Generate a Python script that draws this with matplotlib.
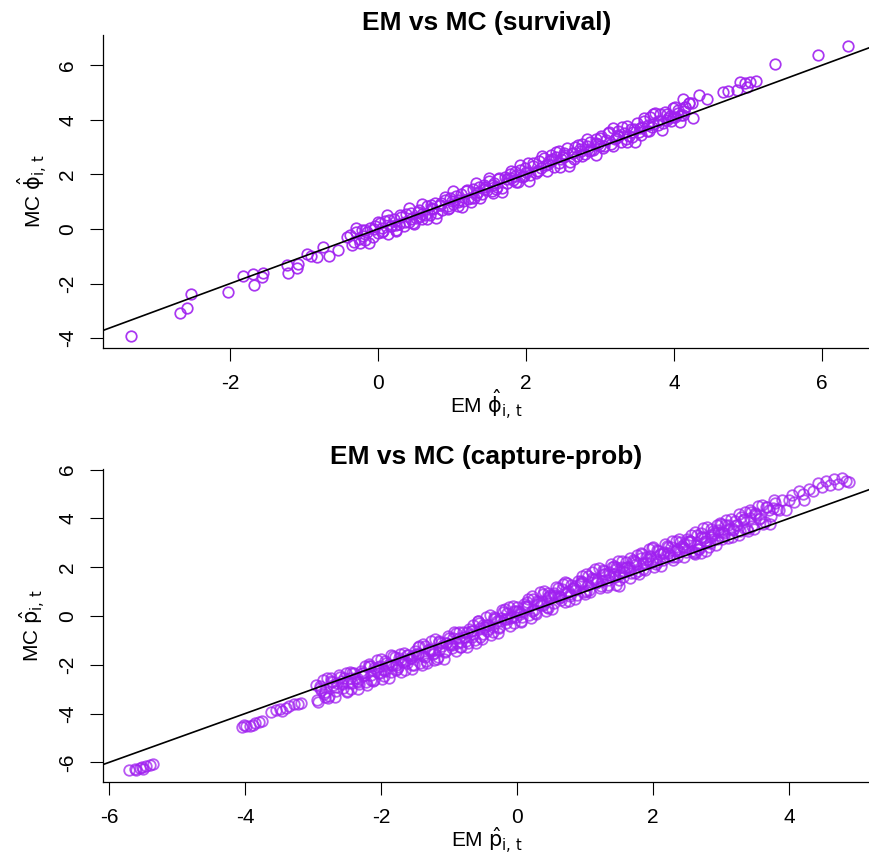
import matplotlib
matplotlib.use('Agg')
import matplotlib.pyplot as plt

plt.rcParams['font.family'] = ['Liberation Sans', 'DejaVu Sans']
plt.rcParams['mathtext.fontset'] = 'dejavusans'

# ---------------- data: survival (top panel) ----------------
em_surv = [
    -3.34, -2.68, -2.58, -2.53, -2.03, -1.83, -1.68, -1.69, -1.57, -1.55,
    -1.23, -1.22, -1.10, -1.08, -0.96, -0.83, -0.74, -0.66, -0.54, -0.42,
    -0.35, -0.90,
    -0.38, -0.33, -0.30, -0.26, -0.22, -0.18, -0.15, -0.11, -0.07, -0.04,
    0.00, 0.03, 0.07, 0.10, 0.14, 0.17, 0.21, 0.24, 0.28, 0.31,
    0.35, 0.38, 0.42, 0.45, 0.49, 0.52, 0.56, 0.59, 0.63, 0.66,
    0.70, 0.73, 0.77, 0.80, 0.84, 0.87, 0.91, 0.94, 0.98, 1.01,
    1.05, 1.08, 1.12, 1.15, 1.19, 1.22, 1.26, 1.29, 1.33, 1.36,
    1.40, 1.43, 1.47, 1.50, 1.54, 1.57, 1.61, 1.64, 1.68, 1.71,
    1.75, 1.78, 1.82, 1.85, 1.89, 1.92, 1.96, 1.99, 2.03, 2.06,
    2.10, 2.13, 2.17, 2.20, 2.24, 2.27, 2.31, 2.34, 2.38, 2.41,
    2.45, 2.48, 2.52, 2.55, 2.59, 2.62, 2.66, 2.69, 2.73, 2.76,
    2.80, 2.83, 2.87, 2.90, 2.94, 2.97, 3.01, 3.04, 3.08, 3.11,
    3.15, 3.18, 3.22, 3.25, 3.29, 3.32, 3.36, 3.39, 3.43, 3.46,
    3.50, 3.53, 3.57, 3.60, 3.64, 3.67, 3.71, 3.74, 3.78, 3.81,
    3.85, 3.88, 3.92, 3.95, 3.99, 4.02, 4.06, 4.10, 4.15, 4.20,
    -0.20, 0.05, 0.25, 0.45, 0.60, 0.75, 0.95, 1.10, 1.30, 1.45,
    1.60, 1.80, 1.95, 2.15, 2.30, 2.50, 2.65, 2.85, 3.00, 3.20,
    3.35, 3.55, 3.70, 3.90, 4.05, 0.15, 0.55, 1.00, 1.55, 2.00,
    2.45, 2.95, 3.45, 0.85, 1.35, 1.85, 2.35, 2.75, 3.25, 3.65,
    4.12, 4.24, 4.15, 4.34, 4.45, 4.12, 3.99, 4.66, 4.73, 4.85,
    4.89, 4.96, 5.03, 5.11, 4.99, 5.36, 5.95, 6.35,
    -0.30, -0.24, -0.18, -0.12, -0.06, 0.00, 0.06, 0.12, 0.18, 0.24,
    0.30, 0.36, 0.42, 0.48, 0.54, 0.60, 0.66, 0.72, 0.78, 0.84,
    0.90, 0.96, 1.02, 1.08, 1.14, 1.20, 1.26, 1.32, 1.38, 1.44,
    1.50, 1.56, 1.62, 1.68, 1.74, 1.80, 1.86, 1.92, 1.98, 2.04,
    2.10, 2.16, 2.22, 2.28, 2.34, 2.40, 2.46, 2.52, 2.58, 2.64,
    2.70, 2.76, 2.82, 2.88, 2.94, 3.00, 3.06, 3.12, 3.18, 3.24,
    3.30, 3.36, 3.42, 3.48, 3.54, 3.60, 3.66, 3.72, 3.78, 3.84,
    3.90, 3.96, 4.02, 4.08, 4.14, 4.20, 4.26,
]
mc_surv = [
    -3.92, -3.08, -2.89, -2.38, -2.31, -1.72, -2.05, -1.65, -1.75, -1.62,
    -1.32, -1.62, -1.43, -1.30, -0.92, -1.02, -0.66, -0.99, -0.77, -0.29,
    -0.59, -1.00,
    -0.22, -0.48, -0.10, -0.35, -0.02, -0.40, -0.12, 0.05, -0.30, 0.10,
    -0.15, 0.22, -0.08, 0.30, -0.20, 0.12, 0.38, -0.05, 0.20, 0.45,
    0.10, 0.55, 0.25, 0.60, 0.18, 0.40, 0.70, 0.35, 0.52, 0.85,
    0.50, 0.78, 0.95, 0.60, 0.88, 0.70, 1.05, 0.75, 1.15, 0.90,
    1.20, 0.85, 1.30, 1.02, 1.40, 1.10, 1.00, 1.45, 1.25, 1.55,
    1.30, 1.60, 1.42, 1.75, 1.38, 1.68, 1.55, 1.88, 1.50, 1.92,
    1.70, 2.02, 1.80, 2.10, 1.72, 2.15, 1.95, 2.25, 2.40, 1.98,
    2.30, 2.05, 2.50, 2.22, 2.60, 2.35, 2.48, 2.70, 2.28, 2.62,
    2.85, 2.55, 2.70, 2.95, 2.45, 2.80, 3.00, 2.68, 2.92, 3.10,
    2.75, 3.05, 3.20, 2.90, 3.30, 3.10, 3.40, 2.95, 3.25, 3.50,
    3.12, 3.70, 3.35, 3.58, 3.20, 3.50, 3.78, 3.40, 3.37, 3.65,
    3.90, 3.55, 3.72, 4.05, 3.60, 4.10, 3.85, 4.25, 3.95, 4.20,
    3.88, 4.30, 4.05, 4.15, 4.43, 4.10, 4.35, 4.18, 4.47, 4.62,
    -0.25, 0.05, 0.15, 0.35, 0.55, 0.72, 0.85, 1.05, 1.15, 1.48,
    1.45, 1.85, 1.90, 2.12, 2.38, 2.62, 2.55, 2.85, 3.05, 3.28,
    3.30, 3.45, 3.75, 4.00, 4.25, 0.32, 0.45, 1.02, 1.62, 2.10,
    2.40, 3.15, 3.55, 0.95, 1.35, 1.95, 2.55, 2.85, 3.42, 3.80,
    4.76, 4.62, 4.47, 4.91, 4.76, 4.18, 4.10, 5.02, 5.06, 5.09,
    5.38, 5.35, 5.38, 5.42, 5.20, 6.04, 6.37, 6.70,
    0.02, -0.52, -0.03, -0.50, -0.01, 0.26, -0.12, 0.50, 0.10, -0.08,
    0.52, 0.24, 0.77, 0.23, 0.64, 0.92, 0.38, 0.87, 0.40, 0.89,
    1.16, 0.78, 1.40, 1.00, 0.82, 1.42, 1.14, 1.67, 1.13, 1.54,
    1.87, 1.33, 1.82, 1.35, 1.84, 2.11, 1.73, 2.35, 1.95, 1.77,
    2.42, 2.14, 2.67, 2.13, 2.54, 2.82, 2.28, 2.77, 2.30, 2.79,
    3.06, 2.68, 3.30, 2.90, 2.72, 3.32, 3.04, 3.57, 3.03, 3.44,
    3.72, 3.18, 3.67, 3.20, 3.69, 3.96, 3.58, 4.20, 3.80, 3.62,
    4.22, 3.94, 4.47, 3.93, 4.34, 4.62, 4.08,
]

# ---------------- data: capture probability (bottom panel) ----------------
em_cap = [
    -5.70, -5.62, -5.55, -5.50, -5.45, -5.40, -5.35, -5.60, -5.52,
    -4.05, -3.98, -3.92, -3.85, -3.80, -3.75, -4.02, -3.88,
    -3.62, -3.55, -3.48, -3.40, -3.35, -3.28, -3.22, -3.18, -3.45,
    -2.96, -2.92, -2.88, -2.84, -2.80, -2.76, -2.72, -2.68, -2.64, -2.60,
    -2.56, -2.52, -2.48, -2.44, -2.40, -2.36, -2.32, -2.28, -2.24, -2.20,
    -2.16, -2.12, -2.08, -2.04, -2.00, -1.96, -1.92, -1.88, -1.84, -1.80,
    -1.76, -1.72, -1.68, -1.64, -1.60, -1.56, -1.52, -1.48, -1.44, -1.40,
    -1.36, -1.32, -1.28, -1.24, -1.20, -1.16, -1.12, -1.08, -1.04, -1.00,
    -0.96, -0.92, -0.88, -0.84, -0.80, -0.76, -0.72, -0.68, -0.64, -0.60,
    -0.56, -0.52, -0.48, -0.44, -0.40, -0.36, -0.32, -0.28, -0.24, -0.20,
    -0.16, -0.12, -0.08, -0.04, 0.00, 0.04, 0.08, 0.12, 0.16, 0.20,
    0.24, 0.28, 0.32, 0.36, 0.40, 0.44, 0.48, 0.52, 0.56, 0.60,
    0.64, 0.68, 0.72, 0.76, 0.80, 0.84, 0.88, 0.92, 0.96, 1.00,
    1.04, 1.08, 1.12, 1.16, 1.20, 1.24, 1.28, 1.32, 1.36, 1.40,
    1.44, 1.48, 1.52, 1.56, 1.60, 1.64, 1.68, 1.72, 1.76, 1.80,
    1.84, 1.88, 1.92, 1.96, 2.00, 2.04, 2.08, 2.12, 2.16, 2.20,
    2.24, 2.28, 2.32, 2.36, 2.40, 2.44, 2.48, 2.52, 2.56, 2.60,
    2.64, 2.68, 2.72, 2.76, 2.80, 2.84, 2.88, 2.92, 2.96, 3.00,
    3.04, 3.08, 3.12, 3.16, 3.20, 3.24, 3.28, 3.32, 3.36, 3.40,
    3.44, 3.48, 3.52, 3.56, 3.60, 3.64, 3.68, 3.72, 3.76, 3.80,
    3.85, 3.90, 3.95, 4.00, 4.08, 4.15, 4.22, 4.30, 4.36, 4.42,
    4.48, 4.55, 4.60, 4.66, 4.72, 4.78, 4.84, 4.88, 4.05, 4.20,
    2.62, 2.70, 2.78, 2.66, 1.45, 1.50,
    -2.94, -2.90, -2.86, -2.82, -2.78, -2.74, -2.70, -2.66, -2.62, -2.58,
    -2.54, -2.50, -2.46, -2.42, -2.38, -2.34, -2.30, -2.26, -2.22, -2.18,
    -2.14, -2.10, -2.06, -2.02, -1.98, -1.94, -1.90, -1.86, -1.82, -1.78,
    -1.74, -1.70, -1.66, -1.62, -1.58, -1.54, -1.50, -1.46, -1.42, -1.38,
    -1.34, -1.30, -1.26, -1.22, -1.18, -1.14, -1.10, -1.06, -1.02, -0.98,
    -0.94, -0.90, -0.86, -0.82, -0.78, -0.74, -0.70, -0.66, -0.62, -0.58,
    -0.54, -0.50, -0.46, -0.42, -0.38, -0.34, -0.30, -0.26, -0.22, -0.18,
    -0.14, -0.10, -0.06, -0.02, 0.02, 0.06, 0.10, 0.14, 0.18, 0.22,
    0.26, 0.30, 0.34, 0.38, 0.42, 0.46, 0.50, 0.54, 0.58, 0.62,
    0.66, 0.70, 0.74, 0.78, 0.82, 0.86, 0.90, 0.94, 0.98, 1.02,
    1.06, 1.10, 1.14, 1.18, 1.22, 1.26, 1.30, 1.34, 1.38, 1.42,
    1.46, 1.50, 1.54, 1.58, 1.62, 1.66, 1.70, 1.74, 1.78, 1.82,
    1.86, 1.90, 1.94, 1.98, 2.02, 2.06, 2.10, 2.14, 2.18, 2.22,
    2.26, 2.30, 2.34, 2.38, 2.42, 2.46, 2.50, 2.54, 2.58, 2.62,
    2.66, 2.70, 2.74, 2.78, 2.82, 2.86, 2.90, 2.94, 2.98, 3.02,
    3.06, 3.10, 3.14, 3.18, 3.22, 3.26, 3.30, 3.34, 3.38, 3.42,
    3.46, 3.50, 3.54, 3.58, 3.62, 3.66, 3.70, 3.74, 3.78, 3.82,
    -2.45, -2.35, -2.25, -2.15, -2.05, -1.95, -1.85, -1.75, -1.65, -1.55,
    -1.45, -1.35, -1.25, -1.15, -1.05, -0.95, -0.85, -0.75, -0.65, -0.55,
    -0.45, -0.35, -0.25, -0.15, -0.05, 0.05, 0.15, 0.25, 0.35, 0.45,
    0.55, 0.65, 0.75, 0.85, 0.95, 1.05, 1.15, 1.25, 1.35, 1.45,
    1.55, 1.65, 1.75, 1.85, 1.95, 2.05, 2.15, 2.25, 2.35, 2.45,
    2.55, 2.65, 2.75, 2.85, 2.95, 3.05,
    -2.90, -2.82, -2.74, -2.66, -2.58, -2.50, -2.42, -2.34, -2.26, -2.18,
    -2.10, -2.02, -1.94, -1.86, -1.78, -1.70, -1.62, -1.54, -1.46, -1.38,
    -1.30, -1.22, -1.14, -1.06, -0.98, -0.90, -0.82, -0.74, -0.66, -0.58,
    -0.50, -0.42, -0.34, -0.26, -0.18, -0.10, -0.02, 0.06, 0.14, 0.22,
    0.30, 0.38, 0.46, 0.54, 0.62, 0.70, 0.78, 0.86, 0.94, 1.02,
    1.10, 1.18, 1.26, 1.34, 1.42, 1.50, 1.58, 1.66, 1.74, 1.82,
    1.90, 1.98, 2.06, 2.14, 2.22, 2.30, 2.38, 2.46, 2.54, 2.62,
    2.70, 2.78, 2.86, 2.94, 3.02, 3.10, 3.18, 3.26, 3.34, 3.42,
    3.50,
]
mc_cap = [
    -6.30, -6.28, -6.22, -6.25, -6.15, -6.12, -6.05, -6.32, -6.18,
    -4.55, -4.50, -4.52, -4.40, -4.35, -4.30, -4.45, -4.45,
    -3.95, -3.85, -3.80, -3.75, -3.70, -3.62, -3.60, -3.55, -3.90,
    -2.81, -3.52, -3.03, -3.19, -2.55, -3.26, -2.72, -3.33, -2.74, -2.50,
    -2.96, -2.32, -2.73, -2.99, -2.35, -2.56, -2.77, -2.33, -2.06, -2.82,
    -2.06, -2.67, -2.18, -2.34, -1.78, -2.44, -1.94, -2.53, -1.99, -1.67,
    -2.18, -1.54, -1.90, -2.22, -1.58, -1.74, -2.02, -1.56, -1.24, -2.00,
    -1.24, -1.94, -1.40, -1.56, -0.96, -1.68, -1.10, -1.76, -1.12, -0.92,
    -1.30, -0.65, -1.10, -1.29, -0.66, -0.85, -1.10, -0.61, -0.36, -1.11,
    -0.27, -0.94, -0.45, -0.62, 0.04, -0.65, -0.10, -0.71, -0.09, 0.16,
    -0.29, 0.36, -0.04, -0.28, 0.37, 0.17, -0.04, 0.41, 0.69, -0.07,
    0.70, 0.10, 0.60, 0.44, 1.01, 0.36, 0.86, 0.28, 0.83, 1.15,
    0.65, 1.30, 0.94, 0.63, 1.28, 1.13, 0.85, 1.32, 1.65, 0.89,
    1.66, 0.97, 1.52, 1.36, 1.97, 1.25, 1.83, 1.18, 1.82, 2.02,
    1.60, 2.25, 1.79, 1.59, 2.21, 2.02, 1.76, 2.24, 2.48, 1.72,
    2.55, 1.87, 2.35, 2.17, 2.81, 2.12, 2.66, 2.04, 2.64, 2.88,
    2.42, 3.06, 2.66, 2.40, 3.04, 2.83, 2.62, 3.06, 3.34, 2.58,
    3.34, 2.73, 3.22, 3.07, 3.64, 2.98, 3.49, 2.90, 3.45, 3.78,
    3.27, 3.92, 3.56, 3.25, 3.90, 3.74, 3.47, 3.93, 4.26, 3.50,
    4.27, 3.58, 4.12, 3.97, 4.57, 3.86, 4.45, 3.79, 4.44, 4.65,
    4.33, 4.75, 4.36, 4.77, 4.67, 5.11, 4.75, 5.20, 5.13, 5.47,
    5.30, 5.52, 5.35, 5.62, 5.40, 5.65, 5.55, 5.48, 4.95, 5.00,
    2.55, 2.60, 2.68, 2.75, 1.28, 1.25,
    -3.44, -2.95, -2.61, -3.12, -3.38, -2.66, -2.82, -3.08, -2.42, -2.80,
    -2.54, -3.08, -2.31, -2.74, -2.53, -2.99, -2.25, -2.34, -2.72, -1.96,
    -2.64, -2.15, -1.81, -2.32, -2.58, -1.86, -2.02, -2.28, -1.62, -2.00,
    -1.74, -2.28, -1.51, -1.94, -1.73, -2.19, -1.45, -1.54, -1.92, -1.16,
    -1.84, -1.35, -1.01, -1.52, -1.78, -1.06, -1.22, -1.48, -0.82, -1.17,
    -0.90, -1.43, -0.65, -1.06, -0.84, -1.29, -0.54, -0.62, -0.99, -0.22,
    -0.88, -0.38, -0.03, -0.53, -0.78, -0.05, -0.20, -0.44, 0.23, -0.14,
    0.13, -0.40, 0.39, -0.03, 0.19, -0.26, 0.49, 0.40, 0.03, 0.80,
    0.12, 0.62, 0.97, 0.47, 0.21, 0.94, 0.79, 0.53, 1.20, 0.83,
    1.09, 0.56, 1.34, 0.91, 1.13, 0.68, 1.43, 1.34, 0.97, 1.74,
    1.07, 1.56, 1.91, 1.41, 1.15, 1.87, 1.72, 1.46, 2.12, 1.74,
    2.01, 1.47, 2.24, 1.81, 2.02, 1.56, 2.30, 2.21, 1.83, 2.59,
    1.93, 2.42, 2.76, 2.25, 1.99, 2.71, 2.55, 2.29, 2.95, 2.57,
    2.84, 2.30, 3.08, 2.65, 2.86, 2.40, 3.14, 3.06, 2.68, 3.44,
    2.76, 3.25, 3.60, 3.09, 2.84, 3.57, 3.41, 3.16, 3.82, 3.45,
    3.72, 3.18, 3.96, 3.53, 3.75, 3.30, 4.04, 3.96, 3.58, 4.35,
    3.67, 4.17, 4.52, 4.01, 3.76, 4.48, 4.33, 4.08, 4.74, 4.37,
    -2.55, -2.67, -2.43, -2.40, -2.11, -2.23, -1.99, -2.10, -1.85, -1.63,
    -1.55, -1.67, -1.43, -1.40, -1.11, -1.19, -0.92, -1.01, -0.73, -0.48,
    -0.37, -0.46, -0.19, -0.13, 0.19, 0.10, 0.36, 0.26, 0.53, 0.77,
    0.86, 0.76, 1.02, 1.07, 1.38, 1.28, 1.53, 1.43, 1.69, 1.92,
    2.00, 1.89, 2.13, 2.17, 2.46, 2.35, 2.59, 2.48, 2.74, 2.96,
    3.05, 2.93, 3.18, 3.22, 3.53, 3.42,
    -2.88, -3.30, -2.54, -2.91, -2.66, -3.10, -2.32, -2.72, -2.44, -2.03,
    -2.62, -2.04, -2.24, -1.61, -2.20, -1.82, -1.60, -2.02, -1.26, -1.63,
    -1.38, -1.82, -1.04, -1.44, -1.13, -0.70, -1.26, -0.66, -0.84, -0.19,
    -0.75, -0.35, -0.11, -0.50, 0.28, -0.07, 0.21, -0.21, 0.58, 0.20,
    0.49, 0.92, 0.34, 0.93, 0.75, 1.39, 0.81, 1.21, 1.44, 1.04,
    1.81, 1.46, 1.71, 1.28, 2.06, 1.67, 1.95, 2.37, 1.78, 2.36,
    2.17, 2.80, 2.22, 2.60, 2.82, 2.40, 3.17, 2.80, 3.06, 2.62,
    3.40, 3.01, 3.31, 3.73, 3.15, 3.74, 3.55, 4.20, 3.62, 4.01,
    4.24,
]

surv_xticks = [-2, 0, 2, 4, 6]
surv_yticks = [-4, -2, 0, 2, 4, 6]
cap_xticks = [-6, -4, -2, 0, 2, 4]
cap_yticks = [-6, -4, -2, 0, 2, 4, 6]

titles = ['EM vs MC (survival)', 'EM vs MC (capture-prob)']
xlabels = [r'EM $\hat{\mathrm{\phi}}_{\mathrm{i,\,t}}$',
           r'EM $\hat{\mathrm{p}}_{\mathrm{i,\,t}}$']
ylabels = [r'MC $\hat{\mathrm{\phi}}_{\mathrm{i,\,t}}$',
           r'MC $\hat{\mathrm{p}}_{\mathrm{i,\,t}}$']

PURPLE = '#A020F0'
W, H = 870.0, 857.0

fig = plt.figure(figsize=(8.7, 8.57), dpi=100)


def make_panel(top_px, bot_px, xlim, ylim, xs, ys, xticks, yticks,
               title, xlabel, ylabel, alpha, mew, xlab_y, ylab_x):
    ax = fig.add_axes([103 / W, 1 - bot_px / H, 767 / W, (bot_px - top_px) / H])
    ax.plot(xs, ys, linestyle='none', marker='o', markersize=7.6,
            markerfacecolor='none', markeredgecolor=PURPLE,
            markeredgewidth=mew, alpha=alpha, zorder=2)
    ax.axline((0, 0), slope=1, color='black', linewidth=1.2, zorder=3)
    ax.set_xlim(*xlim)
    ax.set_ylim(*ylim)
    ax.set_xticks(xticks)
    ax.set_yticks(yticks)
    ax.set_xticklabels([str(t) for t in xticks])
    ax.set_yticklabels([str(t) for t in yticks], rotation=90, va='center')
    for s in ['top', 'right']:
        ax.spines[s].set_visible(False)
    for s in ['left', 'bottom']:
        ax.spines[s].set_linewidth(0.9)
    ax.tick_params(axis='both', direction='out', length=9.4, width=0.8,
                   labelsize=15, pad=9)
    ax.set_title(title, fontsize=19, fontweight='bold', pad=3)
    cx = (103 + 870) / 2.0 / W
    fig.text(cx, 1 - xlab_y / H, xlabel, ha='center', va='center', fontsize=15)
    cy = 1 - (top_px + bot_px) / 2.0 / H
    fig.text(ylab_x / W, cy, ylabel, ha='center', va='center', fontsize=15,
             rotation=90)
    return ax


make_panel(35, 348, (-3.716, 6.649), (-4.359, 7.106), em_surv, mc_surv,
           surv_xticks, surv_yticks, titles[0], xlabels[0], ylabels[0],
           0.9, 1.25, 404, 32)
make_panel(469, 782, (-6.088, 5.191), (-6.803, 6.025), em_cap, mc_cap,
           cap_xticks, cap_yticks, titles[1], xlabels[1], ylabels[1],
           0.75, 1.3, 840, 32)

fig.savefig('out.png', dpi=100)
